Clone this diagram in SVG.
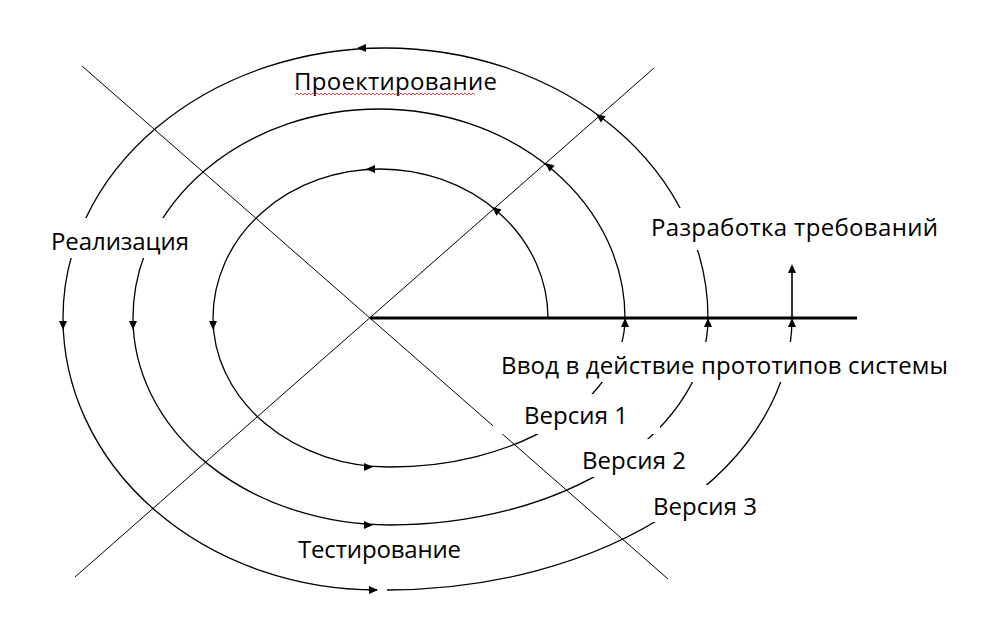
<svg xmlns="http://www.w3.org/2000/svg" xmlns:xlink="http://www.w3.org/1999/xlink" width="982" height="632" viewBox="0 0 982 632">
<style>
.arc{fill:none;stroke:#000;stroke-width:1.3}
.diag{fill:none;stroke:#000;stroke-width:1}
.axis{fill:none;stroke:#000;stroke-width:3}
.stem{fill:none;stroke:#000;stroke-width:1.6}
.bg{fill:#fff;stroke:none}
.lbl{font-family:"Open Sans","Noto Sans","Liberation Sans",sans-serif;font-size:24px;fill:#000}
.squig{fill:none;stroke:#e03a3a;stroke-width:0.9}
</style>
<defs>
<path id="ah" d="M0,0 L-9,-4 L-9,4 Z" fill="#000"/>
</defs>
<rect width="982" height="632" fill="#fff"/>
<g id="connectors">
<line class="diag" x1="82" y1="66" x2="668" y2="579"/>
<line class="diag" x1="654" y1="68" x2="75" y2="577"/>
<line class="axis" x1="370" y1="318" x2="857" y2="318"/>
<path id="turn1" class="arc" d="M548,318 A168,149 0 0 0 380,169 A167,149 0 0 0 213,318 A177,149 0 0 0 390,467 A235,149 0 0 0 625,318"/>
<path id="turn2" class="arc" d="M625,318 A246,209 0 0 0 379,109 A246,209 0 0 0 133,318 A257,207 0 0 0 390,525 A318,207 0 0 0 708,318"/>
<path id="turn3" class="arc" d="M708,318 A323,270 0 0 0 385,48 A322,270 0 0 0 63,318 A314,272 0 0 0 377,590 M387,590 A405,272 0 0 0 792,318"/>
<line class="stem" x1="792" y1="318" x2="792" y2="268"/>
<g id="arrowheads">
<use xlink:href="#ah" transform="translate(357,48) rotate(180)"/>
<use xlink:href="#ah" transform="translate(366,169) rotate(180)"/>
<use xlink:href="#ah" transform="translate(596,114) rotate(216.5)"/>
<use xlink:href="#ah" transform="translate(545,163) rotate(218)"/>
<use xlink:href="#ah" transform="translate(492,207) rotate(219)"/>
<use xlink:href="#ah" transform="translate(63,330) rotate(90)"/>
<use xlink:href="#ah" transform="translate(133,330) rotate(90)"/>
<use xlink:href="#ah" transform="translate(213,330) rotate(90)"/>
<use xlink:href="#ah" transform="translate(373,467) rotate(0)"/>
<use xlink:href="#ah" transform="translate(373,525) rotate(0)"/>
<use xlink:href="#ah" transform="translate(378,590) rotate(0)"/>
<use xlink:href="#ah" transform="translate(625,318) rotate(-90)"/>
<use xlink:href="#ah" transform="translate(708,318) rotate(-90)"/>
<use xlink:href="#ah" transform="translate(792,318) rotate(-90)"/>
<use xlink:href="#ah" transform="translate(792,264) rotate(-90)"/>
</g>
</g>
<g id="label-proektirovanie">
<text class="lbl" x="294" y="90" textLength="203">Проектирование</text>
<path class="squig" d="M295,95 l2,-2 2,2 2,-2 2,2 2,-2 2,2 2,-2 2,2 2,-2 2,2 2,-2 2,2 2,-2 2,2 2,-2 2,2 2,-2 2,2 2,-2 2,2 2,-2 2,2 2,-2 2,2 2,-2 2,2 2,-2 2,2 2,-2 2,2 2,-2 2,2 2,-2 2,2 2,-2 2,2 2,-2 2,2 2,-2 2,2 2,-2 2,2 2,-2 2,2 2,-2 2,2 2,-2 2,2 2,-2 2,2 2,-2 2,2 2,-2 2,2 2,-2 2,2 2,-2 2,2 2,-2 2,2 2,-2 2,2 2,-2 2,2 2,-2 2,2 2,-2 2,2 2,-2 2,2 2,-2 2,2 2,-2 2,2 2,-2 2,2 2,-2 2,2 2,-2 2,2 2,-2 2,2 2,-2 2,2 2,-2 2,2 2,-2 2,2 2,-2 2,2"/>
</g>
<g id="label-realizaciya">
<rect class="bg" x="40" y="218" width="165" height="40"/>
<text class="lbl" x="51" y="250" textLength="138">Реализация</text>
</g>
<g id="label-razrabotka">
<rect class="bg" x="640" y="208" width="305" height="42"/>
<text class="lbl" x="651" y="236" textLength="287">Разработка требований</text>
</g>
<g id="label-vvod">
<rect class="bg" x="490" y="342" width="465" height="40"/>
<text class="lbl" x="501" y="374" textLength="447">Ввод в действие прототипов системы</text>
</g>
<g id="label-versiya1">
<rect class="bg" x="493" y="394" width="167" height="40"/>
<text class="lbl" x="524" y="424" textLength="104">Версия 1</text>
</g>
<g id="label-versiya2">
<rect class="bg" x="575" y="439" width="130" height="38"/>
<text class="lbl" x="582" y="469" textLength="104">Версия 2</text>
</g>
<g id="label-versiya3">
<rect class="bg" x="630" y="485" width="160" height="37"/>
<text class="lbl" x="653" y="515" textLength="104">Версия 3</text>
</g>
<g id="label-testirovanie">
<text class="lbl" x="298" y="558" textLength="163">Тестирование</text>
</g>
</svg>
